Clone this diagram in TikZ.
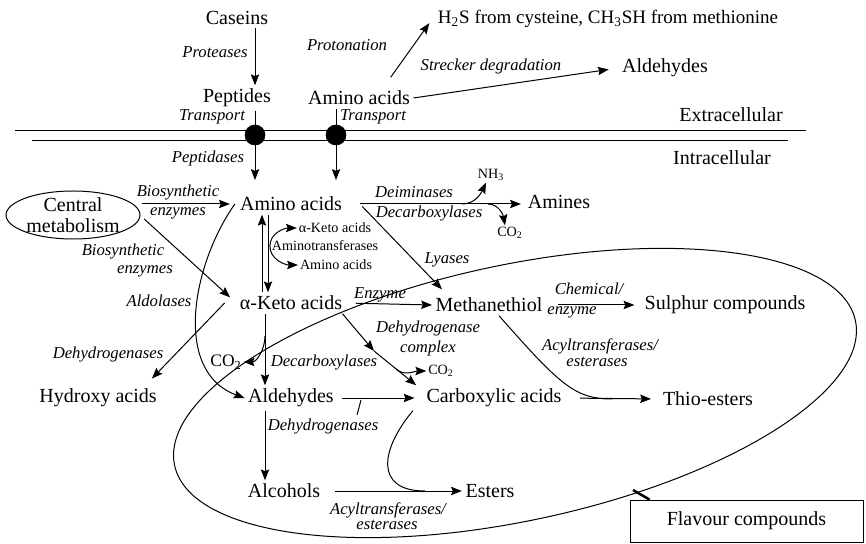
\documentclass[tikz,border=0pt]{standalone}
\usepackage{fontspec}
\setmainfont{Liberation Serif}
\usetikzlibrary{arrows.meta,shapes.geometric}

\begin{document}
\begin{tikzpicture}[x=0.6pt,y=-0.6pt]
      \tikzstyle{cpd}=[inner sep=2pt,font=\fontsize{12}{13}\selectfont]
      \tikzstyle{enz}=[inner sep=1pt,font=\fontsize{10}{10}\selectfont\itshape]
      \tikzstyle{tiny}=[inner sep=1pt,font=\fontsize{8.5}{9}\selectfont]
      \tikzstyle{flow}=[draw,line width=0.6pt,-{Stealth[length=6.5pt,width=5pt,inset=1pt]}]
      \tikzstyle{line}=[draw,line width=0.6pt]
      \tikzstyle{porter}=[draw,circle,fill,minimum size=12pt,inner sep=0pt]
      \useasboundingbox (0,0) rectangle (866,544);
      % membrane
      \path[line] (15,131) -- (806,131);
      \path[line] (32,141) -- (788,141);
      % compounds
      \node[cpd] (cas) at (237,18) {Caseins};
      \node[cpd] (pep) at (237,98) {Peptides};
      \node[cpd] (aaout) at (359,98) {Amino acids};
      \node[cpd,font=\fontsize{11.4}{13}\selectfont] (hs) at (608,19) {H\textsubscript{2}S from cysteine, CH\textsubscript{3}SH from methionine};
      \node[cpd] (aldout) at (665,68) {Aldehydes};
      \node[cpd] (extra) at (731,115) {Extracellular};
      \node[cpd] (intra) at (722,158) {Intracellular};
      \node[porter] (dotp) at (255,135) {};
      \node[porter] (dota) at (336,135) {};
      \node[ellipse,cpd,align=center,inner sep=-10pt,minimum width=82pt,minimum height=29pt] (cm) at (73,215) {Central\\metabolism};
      \path[line] (cm.center) ellipse [x radius=67, y radius=24];
      \node[cpd] (aa) at (291,204) {Amino acids};
      \node[cpd] (ka) at (291,303) {α-Keto acids};
      \node[tiny] (kasm) at (335,228) {α-Keto acids};
      \node[tiny] (amt) at (325,246) {Aminotransferases};
      \node[tiny] (aasm) at (336,265) {Amino acids};
      \node[cpd] (amines) at (559,202) {Amines};
      \node[tiny] (nh) at (491,175) {NH\textsubscript{3}};
      \node[tiny] (co2am) at (510,233) {CO\textsubscript{2}};
      \node[cpd] (meth) at (489,305) {Methanethiol};
      \node[cpd] (sul) at (725,305) {Sulphur compounds};
      \node[cpd] (hyd) at (98,398) {Hydroxy acids};
      \node[cpd] (ald) at (291,398) {Aldehydes};
      \node[cpd] (carb) at (494,398) {Carboxylic acids};
      \node[cpd] (thio) at (708,399) {Thio-esters};
      \node[cpd] (alc) at (284,491) {Alcohols};
      \node[cpd] (est) at (490,491) {Esters};
      \node[inner sep=1pt,font=\fontsize{10.5}{11}\selectfont] (co2ka) at (226,362) {CO\textsubscript{2}};
      \node[tiny] (co2dh) at (441,371) {CO\textsubscript{2}};
      \node[draw,cpd,minimum width=139.8pt,minimum height=25.2pt] (flav) at (746.5,521) {Flavour compounds};
      % enzymes
      \node[enz] (lprot) at (215,52) {Proteases};
      \node[enz] (lproton) at (347,45) {Protonation};
      \node[enz] (lstreck) at (491,66) {Strecker degradation};
      \node[enz] (ltrp) at (212,117) {Transport};
      \node[enz] (ltra) at (373,117) {Transport};
      \node[enz] (lpeps) at (208,158) {Peptidases};
      \node[enz] (lbio1) at (178,193) {Biosynthetic};
      \node[enz] (lenz1) at (178,213) {enzymes};
      \node[enz] (lbio2) at (123,252) {Biosynthetic};
      \node[enz] (lenz2) at (145,271) {enzymes};
      \node[enz] (laldo) at (159,301) {Aldolases};
      \node[enz] (ldehyd) at (108,355) {Dehydrogenases};
      \node[enz] (ldeim) at (414,192) {Deiminases};
      \node[enz] (ldecam) at (429,214) {Decarboxylases};
      \node[enz] (llya) at (447,260) {Lyases};
      \node[enz] (lenzy) at (380,295) {Enzyme};
      \node[enz] (lchem) at (589,289) {Chemical/};
      \node[enz] (lchenz) at (572,312) {enzyme};
      \node[enz] (lacyl1) at (600,346) {Acyltransferases/};
      \node[enz] (lest1) at (597,362) {esterases};
      \node[enz] (ldecka) at (324,363) {Decarboxylases};
      \node[enz] (ldhc) at (428,329) {Dehydrogenase};
      \node[enz] (lcplx) at (428,348) {complex};
      \node[enz] (ldehal) at (323,427) {Dehydrogenases};
      \node[enz] (lacyl2) at (388,510) {Acyltransferases/};
      \node[enz] (lest2) at (387,525) {esterases};
      % helper points
      \coordinate (spine) at (265,0);
      \coordinate (upx) at (262,0);
      \coordinate (dnx) at (268,0);
      \coordinate (pepin) at (255,180);
      \coordinate (aain) at (336,180);
      \coordinate (nhfork) at (462,204);
      \coordinate (cofork) at (488,204);
      \coordinate (cofk) at (265,336);
      \coordinate (dhmid) at (374,351);
      \coordinate (dhfork) at (396,369);
      \coordinate (thiofork) at (612,399);
      \coordinate (estfork) at (425,491);
      \coordinate (flavtie) at (633,490);
      % outside the cell
      \path[flow] (cas.south -| dotp) -- (pep.north -| dotp);
      \path[flow] ([xshift=19pt,yshift=6pt]aaout.north) -- ([xshift=-3pt,yshift=-2.5pt]hs.west);
      \path[flow,shorten >=6pt] (aaout.east) -- (aldout.west);
      \path[line] (pep.south -| dotp) -- (dotp);
      \path[flow] (dotp) -- (pepin);
      \path[line] (aaout.south -| dota) -- (dota);
      \path[flow] (dota) -- (aain);
      % inside the cell
      \path[flow,shorten >=4pt] (cm.east |- aa.west) -- (aa.west);
      \path[flow,shorten <=2pt,shorten >=5pt] ([yshift=-1pt]cm.east) -- (ka.west);
      \path[flow] (ka.north -| upx) -- (aa.south -| upx);
      \path[flow] (aa.south -| dnx) -- (ka.north -| dnx);
      \path[flow] (amt.west) to[out=90,in=180] (kasm.west);
      \path[flow] (amt.west) to[out=-90,in=180] (aasm.west);
      \path[flow,shorten <=9pt,shorten >=2pt] (aa.east) -- (aa.east -| amines.west);
      \path[flow] (nhfork) to[out=0,in=-115] ([xshift=-3pt]nh.south);
      \path[flow] (cofork) to[out=0,in=100] ([xshift=-3pt]co2am.north);
      \path[flow] ([xshift=10pt,yshift=5pt]aa.south east) -- ([xshift=6pt,yshift=3pt]meth.north west);
      \path[flow,shorten <=6pt] (ka.east) -- (meth.west);
      \path[flow,shorten <=7pt,shorten >=4pt] (meth.east) -- (sul.west);
      \path[line] ([xshift=6pt]meth.south) .. controls (560,385) and (575,399) .. (thiofork);
      \path[flow,shorten <=9pt,shorten >=5pt] (carb.east) -- (thio.west);
      \path[flow] ([xshift=-7pt]ka.west) -- ([xshift=-5pt,yshift=4pt]hyd.north east);
      \path[flow] ([xshift=-1pt]aa.west) to[out=-125,in=160] (ald.west);
      \path[flow] (ka.south -| spine) -- (ald.north -| spine);
      \path[flow] (cofk) to[out=-90,in=0] (co2ka.east);
      \path[flow] ([xshift=-2pt]ka.south east) -- (dhmid);
      \path[flow] (dhmid) -- ([xshift=-4pt]carb.north west);
      \path[flow] (dhfork) to[out=-40,in=180] (co2dh.west);
      \path[flow,shorten <=3pt,shorten >=5pt] (ald.east) -- (carb.west);
      \path[line] (357,415) -- (361,400);
      \path[flow] (ald.south -| spine) -- (alc.north -| spine);
      \path[line] ([xshift=-6pt]carb.south west) to[out=-130,in=180,looseness=1.6] (estfork);
      \path[flow,shorten <=7pt] (alc.east) -- (est.west);
      % flavour compounds
      \path[line,rotate around={12:(515,393)}] (515,393) ellipse [x radius=348, y radius=128];
      \path[draw,line width=1.5pt] (flavtie) -- ([xshift=12pt]flav.north west);
\end{tikzpicture}
\end{document}
